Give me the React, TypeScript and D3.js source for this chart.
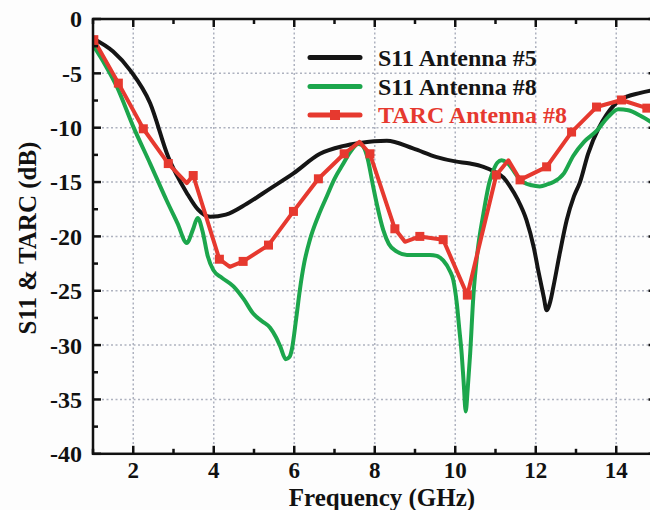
import React from "react";
import * as d3 from "d3";

// ---- data ----
const blackFreq = [1.0, 1.5, 1.92, 2.42, 2.87, 3.33, 3.6, 3.91, 4.3, 4.82, 5.4, 5.98, 6.64, 7.2, 7.63, 8.3, 8.95, 9.54, 10.0, 10.37, 10.7, 10.95, 11.2, 11.36, 11.55, 11.77, 11.95, 12.06, 12.2, 12.27, 12.36, 12.44, 12.6, 12.77, 12.95, 13.1, 13.3, 13.57, 13.76, 14.1, 14.6, 15.0];
const blackDb = [-1.8, -3.0, -4.7, -7.75, -12.7, -16.0, -17.5, -18.2, -18.0, -17.0, -15.6, -14.2, -12.4, -11.7, -11.4, -11.2, -11.9, -12.7, -13.1, -13.3, -13.6, -14.0, -14.6, -15.4, -16.6, -18.5, -21.0, -23.1, -25.6, -26.8, -26.0, -24.6, -21.5, -18.5, -16.3, -15.0, -12.4, -10.0, -8.8, -7.45, -6.8, -6.5];

const greenFreq = [1.0, 1.3, 1.59, 2.0, 2.42, 2.83, 3.1, 3.33, 3.48, 3.6, 3.72, 3.85, 3.99, 4.2, 4.49, 4.75, 4.98, 5.2, 5.4, 5.55, 5.65, 5.79, 5.88, 5.94, 6.05, 6.14, 6.25, 6.39, 6.6, 6.81, 7.0, 7.22, 7.4, 7.59, 7.68, 7.8, 7.96, 8.05, 8.21, 8.35, 8.55, 8.8, 9.12, 9.37, 9.54, 9.7, 9.87, 9.95, 10.04, 10.1, 10.16, 10.21, 10.26, 10.31, 10.37, 10.45, 10.55, 10.7, 10.85, 10.95, 11.05, 11.15, 11.28, 11.4, 11.55, 11.69, 11.9, 12.1, 12.3, 12.44, 12.7, 12.93, 13.2, 13.51, 13.8, 14.05, 14.3, 14.6, 15.0];
const greenDb = [-2.4, -4.2, -6.2, -9.9, -13.3, -16.7, -18.8, -20.6, -19.4, -18.3, -19.5, -21.8, -23.1, -23.8, -24.6, -25.8, -27.1, -27.8, -28.4, -29.3, -30.1, -31.3, -31.1, -30.4, -27.5, -24.9, -22.4, -20.3, -18.1, -16.3, -14.7, -13.3, -12.2, -11.5, -11.6, -12.5, -15.4, -17.0, -19.4, -20.7, -21.4, -21.7, -21.7, -21.7, -21.8, -22.2, -23.2, -24.0, -26.2, -28.5, -30.8, -33.5, -36.1, -34.0, -30.8, -25.5, -21.5, -17.9, -15.0, -13.9, -13.2, -13.0, -13.2, -13.7, -14.5, -15.0, -15.3, -15.4, -15.2, -15.0, -14.2, -12.6, -11.3, -10.3, -9.0, -8.3, -8.4, -8.9, -9.8];

const redFreq = [1.02, 1.63, 2.25, 2.87, 3.33, 3.49, 4.14, 4.4, 4.73, 5.36, 5.98, 6.6, 7.24, 7.62, 7.88, 8.5, 8.75, 9.12, 9.7, 10.3, 11.02, 11.32, 11.61, 12.27, 12.89, 13.51, 14.13, 14.76, 15.0];
const redDb = [-1.9, -5.9, -10.1, -13.3, -15.1, -14.4, -22.1, -22.8, -22.3, -20.8, -17.7, -14.7, -12.4, -11.3, -12.4, -19.3, -20.5, -20.0, -20.3, -25.4, -14.35, -13.0, -14.8, -13.6, -10.4, -8.1, -7.45, -8.2, -8.4];
const redMarker = [1, 1, 1, 1, 0, 1, 1, 0, 1, 1, 1, 1, 1, 0, 1, 1, 0, 1, 1, 1, 1, 0, 1, 1, 1, 1, 1, 1, 0];

const freqTicks = [2, 4, 6, 8, 10, 12, 14];
const freqMinorTicks = [1, 3, 5, 7, 9, 11, 13, 15];
const dbTicks = [0, -5, -10, -15, -20, -25, -30, -35, -40];
const dbMinorTicks = [-2.5, -7.5, -12.5, -17.5, -22.5, -27.5, -32.5, -37.5];

const seriesNames = ["S11 Antenna #5", "S11 Antenna #8", "TARC Antenna #8"];
const xTitle = "Frequency (GHz)";
const yTitle = "S11 & TARC (dB)";

const BLACK = "#151515";
const GREEN = "#1ca64c";
const RED = "#e6392f";
const FONT = "'Liberation Serif', 'Times New Roman', serif";

export default function App() {
  const x = d3.scaleLinear().domain([1, 15]).range([93, 656.5]);
  const y = d3.scaleLinear().domain([-40, 0]).range([453.8, 19]);
  const [x0, x1] = x.range();
  const [yb, yt] = y.range();

  const smooth = d3
    .line<[number, number]>()
    .x((d) => x(d[0]))
    .y((d) => y(d[1]))
    .curve(d3.curveMonotoneX);
  const straight = d3
    .line<[number, number]>()
    .x((d) => x(d[0]))
    .y((d) => y(d[1]))
    .curve(d3.curveLinear);

  const blackPts = blackFreq.map((f, i) => [f, blackDb[i]] as [number, number]);
  const greenPts = greenFreq.map((f, i) => [f, greenDb[i]] as [number, number]);
  const redPts = redFreq.map((f, i) => [f, redDb[i]] as [number, number]);

  const ms = 9;
  const legendRows = [
    { name: seriesNames[0], color: BLACK, text: BLACK, marker: false, y: 57.5 },
    { name: seriesNames[1], color: GREEN, text: BLACK, marker: false, y: 86.5 },
    { name: seriesNames[2], color: RED, text: RED, marker: true, y: 115 },
  ];

  return (
    <svg
      width={650}
      height={510}
      style={{ position: "absolute", left: 0, top: 0, background: "#fff" }}
      fontFamily={FONT}
      fontWeight="bold"
    >
      <defs>
        <clipPath id="plot">
          <rect x={x0} y={yt} width={x1 - x0} height={yb - yt} />
        </clipPath>
      </defs>
      <rect x={0} y={0} width={650} height={510} fill="#fdfdfd" />
      {/* grid */}
      {freqTicks.map((t) => (
        <line key={"gx" + t} x1={x(t)} x2={x(t)} y1={yt} y2={yb} stroke="#aeb2bf" strokeWidth={1.5} strokeDasharray="2,2.5" />
      ))}
      {dbTicks.filter((t) => t !== 0 && t !== -40).map((t) => (
        <line key={"gy" + t} x1={x0} x2={x1} y1={y(t)} y2={y(t)} stroke="#aeb2bf" strokeWidth={1.5} strokeDasharray="2,2.5" />
      ))}
      {/* curves */}
      <g clipPath="url(#plot)" fill="none" strokeLinejoin="round" strokeLinecap="round">
        <path d={smooth(blackPts) || ""} stroke={BLACK} strokeWidth={4} />
        <path d={smooth(greenPts) || ""} stroke={GREEN} strokeWidth={4} />
        <path d={straight(redPts) || ""} stroke={RED} strokeWidth={4} />
        {redPts.map((p, i) =>
          redMarker[i] ? (
            <rect key={"m" + i} x={x(p[0]) - ms / 2} y={y(p[1]) - ms / 2} width={ms} height={ms} fill={RED} stroke="none" />
          ) : null
        )}
      </g>
      {/* frame */}
      <rect x={x0} y={yt} width={x1 - x0} height={yb - yt} fill="none" stroke="#111" strokeWidth={2.5} />
      {/* ticks */}
      <g stroke="#111" strokeWidth={2.5}>
        {freqTicks.map((t) => (
          <g key={"tx" + t}>
            <line x1={x(t)} x2={x(t)} y1={yb} y2={yb - 8} />
            <line x1={x(t)} x2={x(t)} y1={yt} y2={yt + 8} />
          </g>
        ))}
        {freqMinorTicks.map((t) => (
          <g key={"mx" + t}>
            <line x1={x(t)} x2={x(t)} y1={yb} y2={yb - 5} />
            <line x1={x(t)} x2={x(t)} y1={yt} y2={yt + 5} />
          </g>
        ))}
        {dbTicks.map((t) => (
          <g key={"ty" + t}>
            <line x1={x0} x2={x0 + 8} y1={y(t)} y2={y(t)} />
            <line x1={x1} x2={x1 - 8} y1={y(t)} y2={y(t)} />
          </g>
        ))}
        {dbMinorTicks.map((t) => (
          <g key={"my" + t}>
            <line x1={x0} x2={x0 + 5} y1={y(t)} y2={y(t)} />
            <line x1={x1} x2={x1 - 5} y1={y(t)} y2={y(t)} />
          </g>
        ))}
      </g>
      {/* tick labels */}
      <g fontSize={23} fill="#111">
        {freqTicks.map((t) => (
          <text key={"lx" + t} x={x(t)} y={478} textAnchor="middle">
            {t}
          </text>
        ))}
        {dbTicks.map((t) => (
          <text key={"ly" + t} x={82} y={y(t)} dy="0.35em" textAnchor="end" fontSize={24}>
            {t}
          </text>
        ))}
      </g>
      {/* axis titles */}
      <text x={382} y={506} fontSize={25} textAnchor="middle" fill="#111">
        {xTitle}
      </text>
      <text transform={`translate(36,238) rotate(-90)`} fontSize={25} textAnchor="middle" fill="#111">
        {yTitle}
      </text>
      {/* legend */}
      {legendRows.map((r) => (
        <g key={r.name}>
          <line x1={310} x2={360} y1={r.y} y2={r.y} stroke={r.color} strokeWidth={5} strokeLinecap="round" />
          {r.marker ? <rect x={335 - 5} y={r.y - 5} width={10} height={10} fill={RED} /> : null}
          <text x={378} y={r.y + 8} fontSize={24} fill={r.text}>
            {r.name}
          </text>
        </g>
      ))}
    </svg>
  );
}
